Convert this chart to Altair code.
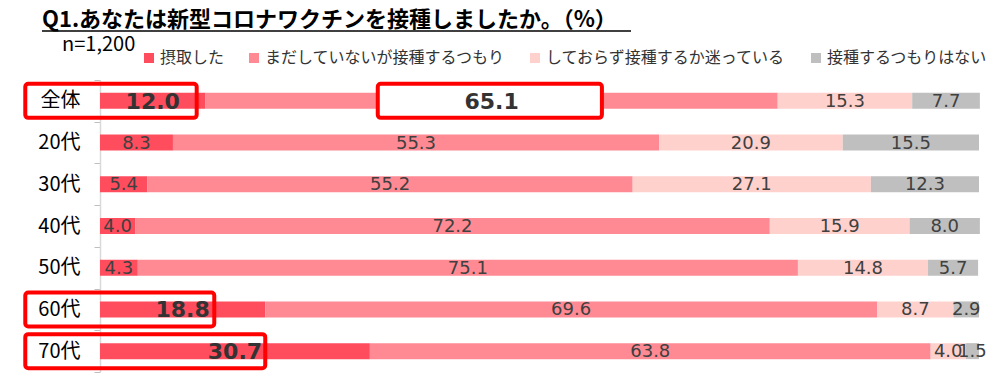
import altair as alt
import pandas as pd

categories = ["全体", "20代", "30代", "40代", "50代", "60代", "70代"]
series = ["摂取した", "まだしていないが接種するつもり", "しておらず接種するか迷っている", "接種するつもりはない"]
colors = ["#FF4D5E", "#FF8A93", "#FFD1CD", "#BFBFBF"]
v_done = [12.0, 8.3, 5.4, 4.0, 4.3, 18.8, 30.7]
v_plan = [65.1, 55.3, 55.2, 72.2, 75.1, 69.6, 63.8]
v_unsure = [15.3, 20.9, 27.1, 15.9, 14.8, 8.7, 4.0]
v_no = [7.7, 15.5, 12.3, 8.0, 5.7, 2.9, 1.5]
emphasized = [("全体", 0), ("全体", 1), ("60代", 0), ("70代", 0)]
title_text = "Q1.あなたは新型コロナワクチンを接種しましたか。（%）"
n_text = "n=1,200"
# highlight boxes: (category, from %, to %, white fill)
highlights = [("全体", -8.5, 11.0, False), ("全体", 31.6, 57.1, True),
              ("60代", -8.5, 13.0, False), ("70代", -8.5, 18.8, False)]

rows = []
for ci, cat in enumerate(categories):
    vals = [v_done[ci], v_plan[ci], v_unsure[ci], v_no[ci]]
    start = 0.0
    for si, s in enumerate(series):
        end = start + vals[si]
        rows.append({"category": cat, "series": s, "order": si, "value": vals[si],
                     "start": start, "end": end, "mid": (start + end) / 2,
                     "label": f"{vals[si]:.1f}", "bold": (cat, si) in emphasized})
        start = end
df = pd.DataFrame(rows)
hl = pd.DataFrame([{"category": c, "x0": a, "x1": b, "filled": f} for c, a, b, f in highlights])

xscale = alt.Scale(domain=[0, 100], nice=False, zero=False)
yenc = alt.Y("category:N", sort=categories, title=None,
             scale=alt.Scale(paddingInner=0, paddingOuter=0),
             axis=alt.Axis(domainColor="#D9D9D9", tickColor="#BFBFBF", tickSize=6,
                           tickBand="extent", labelFontSize=20, labelFont="Noto Sans CJK JP",
                           labelColor="black", labelPadding=14, grid=False, domainWidth=1.5))

bars = alt.Chart(df).mark_bar(size=16).encode(
    x=alt.X("start:Q", scale=xscale, axis=None),
    x2="end:Q",
    y=yenc,
    color=alt.Color("series:N", sort=series,
                    scale=alt.Scale(domain=series, range=colors),
                    legend=alt.Legend(orient="none", legendX=41, legendY=-30, direction="horizontal",
                                      title=None, symbolType="square", symbolSize=100,
                                      symbolStrokeWidth=0, symbolOpacity=1, labelLimit=0,
                                      labelFontSize=16, labelFont="Noto Sans CJK JP",
                                      labelColor="#333333", columnPadding=21, labelOffset=3)),
)

white_box = alt.Chart(hl).transform_filter("datum.filled").mark_bar(
    size=34, fill="white", stroke="#FF0000", strokeWidth=4, cornerRadius=3, clip=False
).encode(x=alt.X("x0:Q", scale=xscale, axis=None), x2="x1:Q", y=yenc)

labels = alt.Chart(df).transform_filter("!datum.bold").mark_text(
    font="DejaVu Sans", fontSize=18, color="#404040", baseline="middle", dy=1
).encode(x=alt.X("mid:Q", scale=xscale, axis=None), y=yenc, text="label:N")

bold_labels = alt.Chart(df).transform_filter("datum.bold").mark_text(
    font="DejaVu Sans", fontSize=22, fontWeight="bold", color="#333333", baseline="middle", dy=1
).encode(x=alt.X("mid:Q", scale=xscale, axis=None), y=yenc, text="label:N")

boxes = alt.Chart(hl).transform_filter("!datum.filled").mark_bar(
    size=34, filled=False, stroke="#FF0000", strokeWidth=4, cornerRadius=3, clip=False
).encode(x=alt.X("x0:Q", scale=xscale, axis=None), x2="x1:Q", y=yenc)

title = alt.Chart(pd.DataFrame({"t": [title_text]})).mark_text(
    font="Noto Sans CJK JP", fontSize=22, fontWeight="bold", color="black",
    align="left", baseline="alphabetic"
).encode(x=alt.value(-58), y=alt.value(-53), text="t:N")

underline = alt.Chart(pd.DataFrame({"a": [0]})).mark_rule(color="black", strokeWidth=1.5).encode(
    x=alt.value(-58), x2=alt.value(531), y=alt.value(-49))

ntext = alt.Chart(pd.DataFrame({"t": [n_text]})).mark_text(
    font="Noto Sans CJK JP", fontSize=20, color="black", align="left", baseline="alphabetic"
).encode(x=alt.value(-38), y=alt.value(-29), text="t:N")

chart = alt.layer(bars, white_box, labels, bold_labels, boxes, title, underline, ntext).properties(
    width=879, height=292, autosize="none",
    padding={"left": 92, "top": 72, "right": 14, "bottom": 2},
).configure_view(stroke=None)

chart.save("out.html", embed_options={"renderer": "svg", "actions": False})
